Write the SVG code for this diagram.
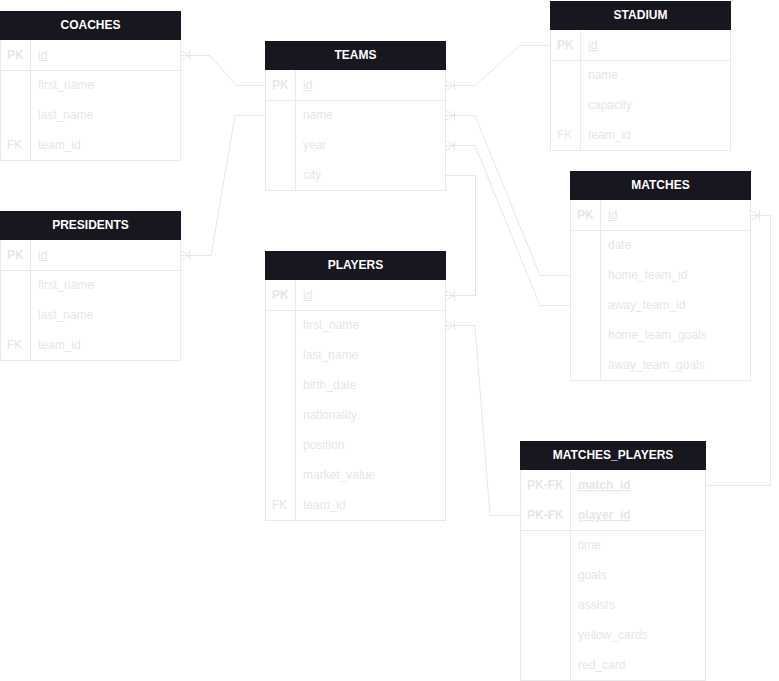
<svg xmlns="http://www.w3.org/2000/svg" width="779" height="681" viewBox="0 0 779 681">
  <defs>
    <style>
      .frame { fill: #ffffff; stroke: #e9e9e9; stroke-width: 1; }
      .head { fill: #18161e; }
      .sep { stroke: #e9e9e9; stroke-width: 1; fill: none; }
      .title { font-family: "Liberation Sans", Arial, sans-serif; font-size: 12px; font-weight: bold; fill: #ffffff; text-anchor: middle; }
      .key { font-family: "Liberation Sans", Arial, sans-serif; font-size: 12px; font-weight: bold; fill: #e6e6e6; }
      .field { font-family: "Liberation Sans", Arial, sans-serif; font-size: 12px; fill: #e6e6e6; }
      .pk { text-decoration: underline; }
      .pkb { text-decoration: underline; font-weight: bold; }
      .link { fill: none; stroke: #e6e6e6; stroke-width: 1; marker-start: url(#many); }
    </style>
    <marker id="many" markerUnits="userSpaceOnUse" markerWidth="12" markerHeight="12" refX="0" refY="0" orient="auto" overflow="visible">
      <path d="M0,-5 L9,0 L0,5 M9,-5 V5" fill="none" stroke="#e6e6e6" stroke-width="1"/>
    </marker>
  </defs>

  <!-- relationship lines -->
  <g id="connectors">
    <path class="link" d="M180.5,55.5 H210 L236,85.5 H265.5"/>
    <path class="link" d="M180.5,255.5 H211 L235,115.5 H265.5"/>
    <path class="link" d="M445.5,85.5 H475 L520,45.5 H550.5"/>
    <path class="link" d="M445.5,115.5 H475 L540,275.5 H570.5"/>
    <path class="link" d="M445.5,145.5 H475 L540,305.5 H570.5"/>
    <path class="link" d="M445.5,295.5 H475.5 V175.5 H445.5"/>
    <path class="link" d="M445.5,325.5 H475 L490,515.5 H520.5"/>
    <path class="link" d="M750.5,215.5 H770.5 V485.5 H705.5"/>
  </g>

  <!-- COACHES -->
  <g id="coaches">
    <rect class="frame" x="0.5" y="11.5" width="180" height="149"/>
    <rect class="head" x="0" y="11" width="181" height="29"/>
    <text class="title" x="90.5" y="28.5">COACHES</text>
    <line class="sep" x1="0.5" y1="70.5" x2="180.5" y2="70.5"/>
    <line class="sep" x1="30.5" y1="40" x2="30.5" y2="160.5"/>
    <text class="key" x="7" y="59">PK</text>
    <text class="field pk" x="38" y="59">id</text>
    <text class="field" x="38" y="89">first_name</text>
    <text class="field" x="38" y="119">last_name</text>
    <text class="field" x="7" y="149">FK</text>
    <text class="field" x="38" y="149">team_id</text>
  </g>

  <!-- PRESIDENTS -->
  <g id="presidents">
    <rect class="frame" x="0.5" y="211.5" width="180" height="149"/>
    <rect class="head" x="0" y="211" width="181" height="29"/>
    <text class="title" x="90.5" y="228.5">PRESIDENTS</text>
    <line class="sep" x1="0.5" y1="270.5" x2="180.5" y2="270.5"/>
    <line class="sep" x1="30.5" y1="240" x2="30.5" y2="360.5"/>
    <text class="key" x="7" y="259">PK</text>
    <text class="field pk" x="38" y="259">id</text>
    <text class="field" x="38" y="289">first_name</text>
    <text class="field" x="38" y="319">last_name</text>
    <text class="field" x="7" y="349">FK</text>
    <text class="field" x="38" y="349">team_id</text>
  </g>

  <!-- TEAMS -->
  <g id="teams">
    <rect class="frame" x="265.5" y="41.5" width="180" height="149"/>
    <rect class="head" x="265" y="41" width="181" height="29"/>
    <text class="title" x="355.5" y="58.5">TEAMS</text>
    <line class="sep" x1="265.5" y1="100.5" x2="445.5" y2="100.5"/>
    <line class="sep" x1="295.5" y1="70" x2="295.5" y2="190.5"/>
    <text class="key" x="272" y="89">PK</text>
    <text class="field pk" x="303" y="89">id</text>
    <text class="field" x="303" y="119">name</text>
    <text class="field" x="303" y="149">year</text>
    <text class="field" x="303" y="179">city</text>
  </g>

  <!-- PLAYERS -->
  <g id="players">
    <rect class="frame" x="265.5" y="251.5" width="180" height="269"/>
    <rect class="head" x="265" y="251" width="181" height="29"/>
    <text class="title" x="355.5" y="268.5">PLAYERS</text>
    <line class="sep" x1="265.5" y1="310.5" x2="445.5" y2="310.5"/>
    <line class="sep" x1="295.5" y1="280" x2="295.5" y2="520.5"/>
    <text class="key" x="272" y="299">PK</text>
    <text class="field pk" x="303" y="299">id</text>
    <text class="field" x="303" y="329">first_name</text>
    <text class="field" x="303" y="359">last_name</text>
    <text class="field" x="303" y="389">birth_date</text>
    <text class="field" x="303" y="419">nationality</text>
    <text class="field" x="303" y="449">position</text>
    <text class="field" x="303" y="479">market_value</text>
    <text class="field" x="272" y="509">FK</text>
    <text class="field" x="303" y="509">team_id</text>
  </g>

  <!-- STADIUM -->
  <g id="stadium">
    <rect class="frame" x="550.5" y="1.5" width="180" height="149"/>
    <rect class="head" x="550" y="1" width="181" height="29"/>
    <text class="title" x="640.5" y="18.5">STADIUM</text>
    <line class="sep" x1="550.5" y1="60.5" x2="730.5" y2="60.5"/>
    <line class="sep" x1="580.5" y1="30" x2="580.5" y2="150.5"/>
    <text class="key" x="557" y="49">PK</text>
    <text class="field pk" x="588" y="49">id</text>
    <text class="field" x="588" y="79">name</text>
    <text class="field" x="588" y="109">capacity</text>
    <text class="field" x="557" y="139">FK</text>
    <text class="field" x="588" y="139">team_id</text>
  </g>

  <!-- MATCHES -->
  <g id="matches">
    <rect class="frame" x="570.5" y="171.5" width="180" height="209"/>
    <rect class="head" x="570" y="171" width="181" height="29"/>
    <text class="title" x="660.5" y="188.5">MATCHES</text>
    <line class="sep" x1="570.5" y1="230.5" x2="750.5" y2="230.5"/>
    <line class="sep" x1="600.5" y1="200" x2="600.5" y2="380.5"/>
    <text class="key" x="577" y="219">PK</text>
    <text class="field pk" x="608" y="219">id</text>
    <text class="field" x="608" y="249">date</text>
    <text class="field" x="608" y="279">home_team_id</text>
    <text class="field" x="608" y="309">away_team_id</text>
    <text class="field" x="608" y="339">home_team_goals</text>
    <text class="field" x="608" y="369">away_team_goals</text>
  </g>

  <!-- MATCHES_PLAYERS -->
  <g id="matches_players">
    <rect class="frame" x="520.5" y="441.5" width="185" height="239"/>
    <rect class="head" x="520" y="441" width="186" height="29"/>
    <text class="title" x="613" y="458.5">MATCHES_PLAYERS</text>
    <line class="sep" x1="520.5" y1="530.5" x2="705.5" y2="530.5"/>
    <line class="sep" x1="570.5" y1="470" x2="570.5" y2="680.5"/>
    <text class="key" x="527" y="489">PK-FK</text>
    <text class="field pkb" x="578" y="489">match_id</text>
    <text class="key" x="527" y="519">PK-FK</text>
    <text class="field pkb" x="578" y="519">player_id</text>
    <text class="field" x="578" y="549">time</text>
    <text class="field" x="578" y="579">goals</text>
    <text class="field" x="578" y="609">assists</text>
    <text class="field" x="578" y="639">yellow_cards</text>
    <text class="field" x="578" y="669">red_card</text>
  </g>
</svg>
